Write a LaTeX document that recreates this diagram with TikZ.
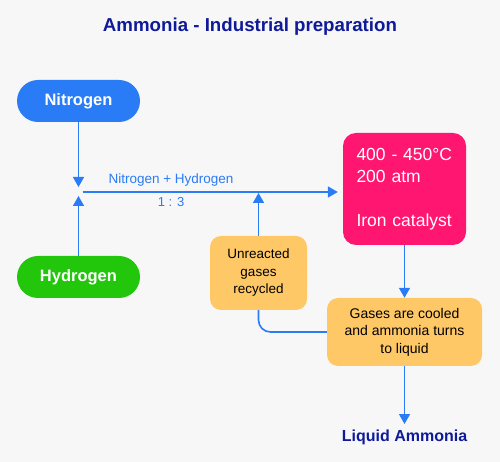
\documentclass[tikz,border=0pt]{standalone}
\usepackage{fontspec}
\setmainfont{Liberation Sans}
\usetikzlibrary{arrows.meta}

\definecolor{bgcol}{HTML}{F7F7F8}
\definecolor{flowblue}{HTML}{2A7BF6}
\definecolor{titleblue}{HTML}{0F1A99}
\definecolor{nitroblue}{HTML}{2A7BF6}
\definecolor{hydrogreen}{HTML}{22C60B}
\definecolor{reactpink}{HTML}{FF1670}
\definecolor{stepamber}{HTML}{FFC866}

\tikzset{
  gaspill/.style = {rounded corners=21pt, minimum width=123pt, minimum height=42pt,
    text=white, font=\fontsize{16.5}{19}\selectfont\bfseries},
  stepbox/.style = {fill=stepamber, rounded corners=11pt, align=center,
    text=black, font=\fontsize{13.5}{17.5}\selectfont},
  flow/.style = {draw=flowblue, line width=1.6pt},
  flowarrow/.style = {flow, -{Triangle[width=11pt,length=10pt]}},
}

\begin{document}
\begin{tikzpicture}[x=1pt, y=1pt]
\fill[bgcol] (0,0) rectangle (500,462);
\useasboundingbox (0,0) rectangle (500,462);

\node[text=titleblue, font=\fontsize{18.7}{21}\selectfont\bfseries] (title) at (250,435) {Ammonia - Industrial preparation};

% feed gases
\node[gaspill, fill=nitroblue] (nitrogen) at (78.5,361) {Nitrogen};
\node[gaspill, fill=hydrogreen] (hydrogen) at (78.5,185) {Hydrogen};
\coordinate (mix) at (78.5,270);

% reactor
\node[fill=reactpink, rounded corners=13pt, minimum width=123pt, minimum height=112pt,
  text width=100pt, inner xsep=11.5pt, align=left, text=white,
  font=\fontsize{17.5}{22}\selectfont] (reactor) at (404.5,273)
  {\hspace*{2pt}400 - 450°C\\\hspace*{2pt}200 atm\\[22pt]\hspace*{2pt}Iron catalyst};

\node[stepbox, minimum width=97pt, minimum height=74pt] (recycle) at (258.5,189)
  {Unreacted\\gases\\recycled};
\node[stepbox, minimum width=155pt, minimum height=68pt, font=\fontsize{14}{17.5}\selectfont] (cooler) at (404.5,130)
  {Gases are cooled\\and ammonia turns\\to liquid};
\node[text=titleblue, font=\fontsize{16}{18}\selectfont\bfseries] (product) at (404.5,25) {Liquid Ammonia};
\coordinate (merge) at (recycle.north |- mix);

\draw[flowarrow] (nitrogen) -- ([yshift=5pt]mix);
\draw[flowarrow] (hydrogen) -- ([yshift=-4pt]mix);
\draw[flowarrow, shorten >=5pt] ([xshift=4pt]mix) -- (reactor.west |- mix)
  node[pos=0.34, above=2pt, text=flowblue, font=\fontsize{13.5}{15}\selectfont] (ratiotop) {Nitrogen + Hydrogen}
  node[pos=0.34, below=1pt, text=flowblue, font=\fontsize{13}{15}\selectfont] (ratio) {1 : 3};
\draw[flowarrow] (recycle) -- ([yshift=-1pt]merge);
\draw[flowarrow] (reactor) -- (cooler);
\draw[flow, rounded corners=12pt] (cooler.west) -| (recycle.south);
\draw[flowarrow, shorten >=2pt] (cooler) -- (product);
\end{tikzpicture}
\end{document}
